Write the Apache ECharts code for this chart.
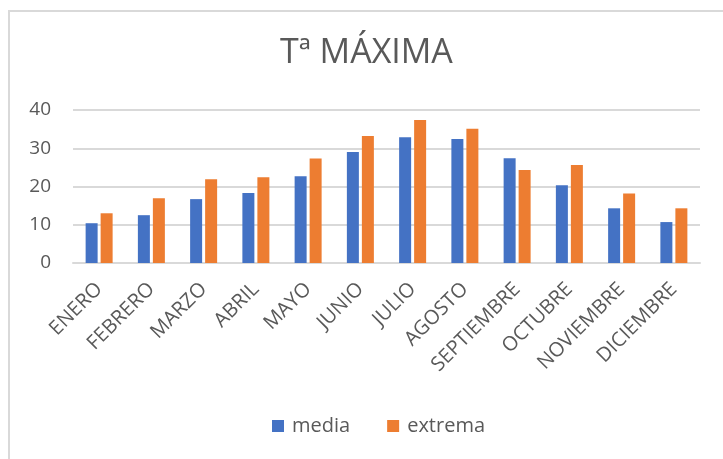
<!DOCTYPE html>
<html>
<head>
<meta charset="utf-8">
<script src="https://cdn.jsdelivr.net/npm/echarts@6/dist/echarts.min.js"></script>
<style>
  html, body { margin: 0; padding: 0; background: #fff; }
  #frame {
    position: absolute; left: 8px; top: 10px; right: -4px; bottom: -4px;
    border-left: 2px solid #d9d9d9; border-top: 2px solid #d9d9d9;
  }
  #chart { position: absolute; left: 0; top: 0; width: 723px; height: 459px; }
</style>
</head>
<body>
<div id="frame"></div>
<div id="chart"></div>
<script>
// meses
const meses = ['ENERO', 'FEBRERO', 'MARZO', 'ABRIL', 'MAYO', 'JUNIO', 'JULIO',
  'AGOSTO', 'SEPTIEMBRE', 'OCTUBRE', 'NOVIEMBRE', 'DICIEMBRE']
// temperatura máxima media
const media = [10.4, 12.5, 16.7, 18.3, 22.7, 29.0, 32.9, 32.4, 27.4, 20.3, 14.3, 10.7]
// temperatura máxima extrema
const extrema = [13.0, 16.9, 21.9, 22.4, 27.3, 33.2, 37.4, 35.1, 24.3, 25.6, 18.2, 14.3]
const yTicks = [0, 10, 20, 30, 40]

const gris = '#595959'
const fuente = 'Open Sans'

const chart = echarts.init(document.getElementById('chart'), null, { renderer: 'canvas' })
const option = {
  animation: false,
  title: {
    text: 'Tª MÁXIMA',
    left: 275,
    top: 31,
    textStyle: { color: gris, fontSize: 34, fontWeight: 'normal', fontFamily: fuente }
  },
  legend: {
    data: ['media', 'extrema'],
    left: 267,
    top: 411,
    icon: 'rect',
    itemWidth: 12,
    itemHeight: 12,
    itemGap: 37,
    textStyle: { color: gris, fontSize: 20, fontFamily: fuente, padding: [0, 0, 0, 3] }
  },
  grid: { left: 73, right: 23, top: 110, bottom: 196 },
  xAxis: {
    type: 'category',
    data: meses,
    axisTick: { show: false },
    axisLine: { lineStyle: { color: '#d9d9d9', width: 2 } },
    axisLabel: {
      interval: 0,
      rotate: 45,
      margin: 23,
      color: gris,
      fontSize: 20,
      fontFamily: fuente
    }
  },
  yAxis: {
    type: 'value',
    min: yTicks[0],
    max: yTicks[yTicks.length - 1],
    interval: 10,
    axisLine: { show: false },
    axisTick: { show: false },
    axisLabel: { color: gris, fontSize: 19, fontFamily: fuente, margin: 22 },
    splitLine: { lineStyle: { color: '#d9d9d9', width: 2 } }
  },
  series: [
    {
      name: 'media',
      type: 'bar',
      data: media,
      barWidth: 12,
      barGap: '25%',
      itemStyle: { color: '#4472c4' }
    },
    {
      name: 'extrema',
      type: 'bar',
      data: extrema,
      barWidth: 12,
      barGap: '25%',
      itemStyle: { color: '#ed7d31' }
    }
  ]
}
chart.setOption(option)
</script>
</body>
</html>
